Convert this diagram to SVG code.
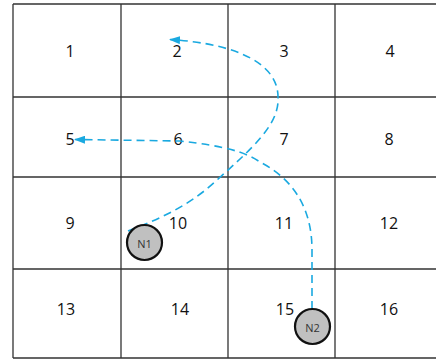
<svg xmlns="http://www.w3.org/2000/svg" width="436" height="361" viewBox="0 0 436 361">
<style>
.grid{stroke:#333;stroke-width:1.3;fill:none}
.lbl{font-family:"Open Sans","Liberation Sans",sans-serif;font-size:16px;fill:#111;text-anchor:middle;dominant-baseline:central}
.node circle{fill:#c0c0c0;stroke:#111;stroke-width:2.2}
.node text{font-family:"Open Sans","Liberation Sans",sans-serif;font-size:11px;fill:#333;text-anchor:middle;dominant-baseline:central}
.conn{fill:none;stroke:#1aa9e0;stroke-width:1.6;stroke-dasharray:8 5}
</style>
<defs>
<marker id="arr" viewBox="0 0 11 8" refX="10" refY="4" markerWidth="11" markerHeight="8" markerUnits="userSpaceOnUse" orient="auto">
<path d="M0,0 L11,4 L0,8 Z" fill="#1aa9e0"/>
</marker>
</defs>
<rect width="436" height="361" fill="#fff"/>
<g id="grid" class="grid">
<path d="M13,4 H436 M13,97 H436 M13,177 H436 M13,269 H436 M13,358 H436"/>
<path d="M13,4 V358 M121,4 V358 M228,4 V358 M335,4 V358"/>
</g>
<g id="cells">
<text class="lbl" x="70" y="51">1</text>
<text class="lbl" x="177" y="51">2</text>
<text class="lbl" x="284" y="51">3</text>
<text class="lbl" x="390" y="51">4</text>
<text class="lbl" x="70" y="139">5</text>
<text class="lbl" x="178" y="139">6</text>
<text class="lbl" x="284" y="139">7</text>
<text class="lbl" x="389" y="139">8</text>
<text class="lbl" x="70" y="223">9</text>
<text class="lbl" x="178" y="223">10</text>
<text class="lbl" x="284" y="223">11</text>
<text class="lbl" x="389" y="223">12</text>
<text class="lbl" x="66" y="309">13</text>
<text class="lbl" x="180" y="309">14</text>
<text class="lbl" x="285" y="309">15</text>
<text class="lbl" x="389" y="309">16</text>
</g>
<g id="connectors">
<path class="conn" marker-end="url(#arr)" d="M128,231 C150,222 185,210 217,180 C250,150 280,125 278,97 C278,65 240,44 170,39.5"/>
<path class="conn" marker-end="url(#arr)" d="M312,309 L312,250 C312,210 295,180 260,162 C245,152 225,146 180,141 L75,139.5"/>
</g>
<g id="N1" class="node">
<circle cx="144.5" cy="242.5" r="17.5"/>
<text x="144.5" y="243">N1</text>
</g>
<g id="N2" class="node">
<circle cx="312.5" cy="326.5" r="17.5"/>
<text x="312.5" y="327">N2</text>
</g>
</svg>
